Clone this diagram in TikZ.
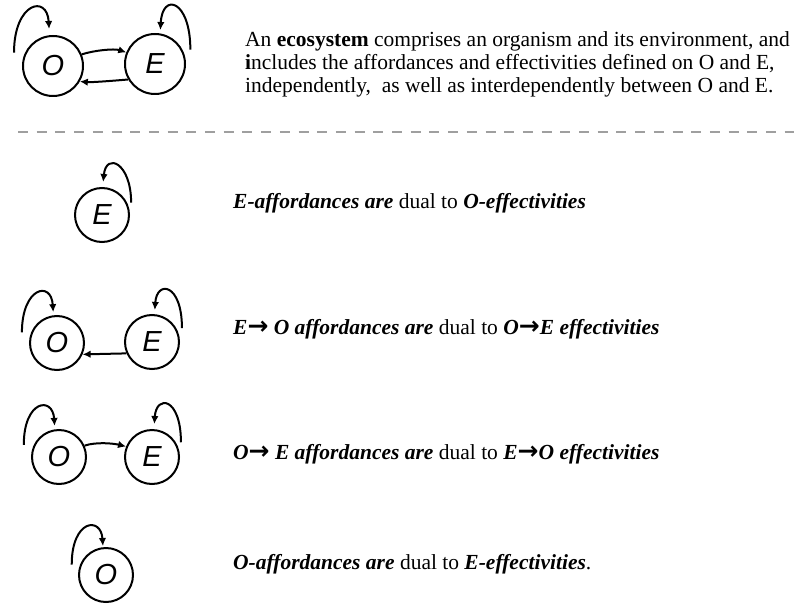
\documentclass[tikz,border=0pt]{standalone}
\usepackage{fontspec}
\setmainfont{Liberation Serif}
\newfontfamily\handfont{Liberation Sans}
\newfontfamily\arrfont{DejaVu Sans}
\usetikzlibrary{arrows.meta,calc}
\newcommand{\arr}{{\arrfont\bfseries\fontsize{25}{20}\selectfont →}}
\newcommand{\bfit}[1]{\textbf{\textit{#1}}}

\begin{document}
\begin{tikzpicture}[
  x=1pt,y=-1pt,
  >={Latex[length=8pt,width=7.5pt]},
  state/.style={draw,circle,line width=2pt,inner sep=0pt,minimum size=54pt,
                font=\handfont\itshape\fontsize{29}{29}\selectfont},
  bigstate/.style={state,minimum size=60pt},
  selfloop/.style={->,line width=2pt},
  flow/.style={->,line width=2pt},
  lbl/.style={anchor=base west,inner sep=0pt,font=\fontsize{21.5}{23}\selectfont},
  sep/.style={gray!75,line width=2pt,dash pattern=on 10pt off 8.7pt},
]
\useasboundingbox (0,0) rectangle (794,604);

% --- ecosystem: O <-> E ---
\node[bigstate] (o1) at (53,66) {O};
\node[bigstate] (e1) at (155,64) {E};
\draw[selfloop] ($(o1.center)!1.33!(o1.161)$) .. controls +(0,-50) and +(-2,-35) .. ($(o1.center)!1.2!(o1.96)$);
\draw[selfloop] ($(e1.center)!1.23!(e1.22)$) .. controls +(0,-50) and +(2,-38) .. ($(e1.center)!1.11!(e1.81)$);
\draw[flow] (o1.22) .. controls +(12,-4) and +(-12,-4) .. (e1.158);
\draw[flow] (e1.210) .. controls +(-12,1) and +(12,1) .. (o1.330);
\node[lbl,align=left] (eco) at (245,93)
  {An \textbf{ecosystem} comprises an organism and its environment, and\\
   \textbf{i}ncludes the affordances and effectivities defined on O and E,\\
   independently,\ \ as well as interdependently between O and E.};

% --- divider ---
\coordinate (sepL) at (18,132);
\coordinate (sepR) at (794,132);
\draw[sep] (sepL) -- (sepR);

% --- E alone ---
\node[state] (e2) at (102,215) {E};
\draw[selfloop] ($(e2.center)!1.13!(e2.23)$) .. controls +(0,-40) and +(3,-30) .. ($(e2.center)!1.18!(e2.88)$);
\node[lbl] (t2) at (233,208) {\bfit{E-affordances are} dual to \bfit{O-effectivities}};

% --- E -> O ---
\node[state] (o3) at (57,343) {O};
\node[state] (e3) at (152,342) {E};
\draw[selfloop] ($(o3.center)!1.31!(o3.163)$) .. controls +(0,-45) and +(-2,-32) .. ($(o3.center)!1.11!(o3.97)$);
\draw[selfloop] ($(e3.center)!1.18!(e3.25)$) .. controls +(0,-45) and +(2,-30) .. ($(e3.center)!1.15!(e3.85)$);
\draw[flow] (e3.204) -- (o3.336);
\node[lbl] (t3) at (233,334) {\bfit{E\arr{} O affordances are} dual to \bfit{O\arr{}E effectivities}};

% --- O -> E ---
\node[state] (o4) at (59,457) {O};
\node[state] (e4) at (152,457) {E};
\draw[selfloop] ($(o4.center)!1.33!(o4.161)$) .. controls +(0,-45) and +(-2,-30) .. ($(o4.center)!1.12!(o4.98)$);
\draw[selfloop] ($(e4.center)!1.16!(e4.27)$) .. controls +(0,-45) and +(2,-30) .. ($(e4.center)!1.18!(e4.86)$);
\draw[flow] (o4.24) .. controls +(12,-4) and +(-12,-3) .. (e4.158);
\node[lbl] (t4) at (233,459) {\bfit{O\arr{} E affordances are} dual to \bfit{E\arr{}O effectivities}};

% --- O alone ---
\node[state] (o5) at (106,575) {O};
\draw[selfloop] ($(o5.center)!1.28!(o5.163)$) .. controls +(0,-45) and +(-2,-30) .. ($(o5.center)!1.04!(o5.96)$);
\node[lbl] (t5) at (233,569) {\bfit{O-affordances are} dual to \bfit{E-effectivities}.};

\end{tikzpicture}
\end{document}
